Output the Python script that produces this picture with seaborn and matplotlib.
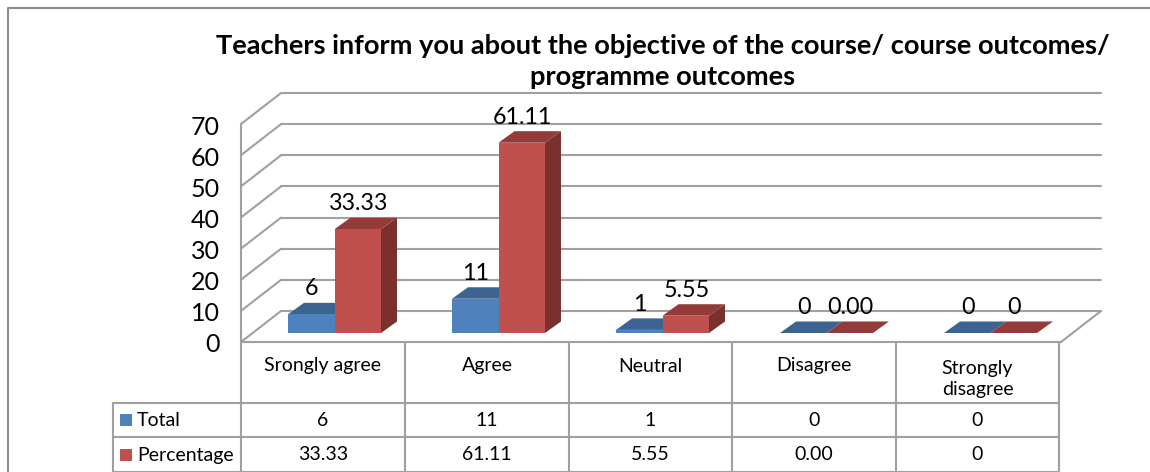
import matplotlib
matplotlib.use('Agg')
import matplotlib.pyplot as plt
from matplotlib.patches import Polygon
from matplotlib.transforms import ScaledTranslation
import pandas as pd
import seaborn as sns

categories = ["Srongly agree", "Agree", "Neutral", "Disagree", "Strongly\ndisagree"]
total = [6, 11, 1, 0, 0]
percentage = [33.33, 61.11, 5.55, 0.00, 0]
total_labels = ["6", "11", "1", "0", "0"]
pct_labels = ["33.33", "61.11", "5.55", "0.00", "0"]
y_ticks = [0, 10, 20, 30, 40, 50, 60, 70]
title = "Teachers inform you about the objective of the course/ course outcomes/\nprogramme outcomes"

sns.set_theme(style='white')
plt.rcParams['font.family'] = ['Lato', 'DejaVu Sans']

W, H = 1150, 472
GREY = '#a0a0a0'
colors = {'Total': '#4f81bd', 'Percentage': '#c0504d'}
tops = {'Total': '#3d6491', 'Percentage': '#933b39'}
sides = {'Total': '#2f4f73', 'Percentage': '#7c302e'}

df = pd.DataFrame({
    'cat': categories * 2,
    'series': ['Total'] * 5 + ['Percentage'] * 5,
    'value': total + percentage,
})

fig = plt.figure(figsize=(W / 100, H / 100), dpi=100)

# pixel overlay for frame and table
ov = fig.add_axes([0, 0, 1, 1], zorder=0)
ov.set_xlim(0, W)
ov.set_ylim(H, 0)
ov.axis('off')

# bar plane axes, y=0 sits at pixel row 333
px_per_unit = 3.114
left, right, base = 252.5, 1072.5, 333
height = 70 * px_per_unit
ax = fig.add_axes([left / W, (H - base) / H, (right - left) / W, height / H], zorder=1)
ax.patch.set_alpha(0)
sns.barplot(data=df, x='cat', y='value', hue='series', hue_order=['Total', 'Percentage'],
            order=categories, palette=colors, width=0.567, saturation=1, legend=False,
            linewidth=0, zorder=3, ax=ax)
ax.set_xlim(-0.5, 4.5)
ax.set_ylim(0, 70)
ax.set_xlabel('')
ax.set_ylabel('')
ax.set_xticks([])
sns.despine(ax=ax, left=True, bottom=True)


def shift(dx, dy):
    return ax.transData + ScaledTranslation(dx / 100, dy / 100, fig.dpi_scale_trans)


# walls: offsets from the bar plane in pixels
front = shift(-11.5, -9)
back = shift(28.5, 22)
for v in y_ticks:
    ax.plot([-0.5, 4.5], [v, v], color=GREY, lw=1.5, transform=back, clip_on=False, zorder=1)
    p0 = front.transform((-0.5, v))
    p1 = back.transform((-0.5, v))
    ax.plot([p0[0], p1[0]], [p0[1], p1[1]], color=GREY, lw=1.5, transform=None, clip_on=False, zorder=1)
ax.plot([-0.5, -0.5], [0, 70], color=GREY, lw=1.5, transform=front, clip_on=False, zorder=1)
ax.plot([-0.5, 4.5], [0, 0], color=GREY, lw=1.5, transform=front, clip_on=False, zorder=1)
p0 = front.transform((4.5, 0))
p1 = back.transform((4.5, 0))
ax.plot([p0[0], p1[0]], [p0[1], p1[1]], color=GREY, lw=1.5, transform=None, clip_on=False, zorder=1)

# y tick labels follow the front wall
ax.set_yticks(y_ticks)
ax.tick_params(axis='y', length=0, pad=0, labelsize=18, labelcolor='black')
for lab in ax.get_yticklabels():
    lab.set_transform(lab.get_transform() + ScaledTranslation(-33 / 100, -10 / 100, fig.dpi_scale_trans))

# depth faces of each bar, worked out from the patches seaborn drew
depth_x, depth_y = 16, 11.5
for name, cont, labels in zip(['Total', 'Percentage'], ax.containers, [total_labels, pct_labels]):
    for bar, lab in zip(cont, labels):
        x0, y0 = ax.transData.transform((bar.get_x(), 0))
        x1, y1 = ax.transData.transform((bar.get_x() + bar.get_width(), bar.get_height()))
        top = [(x0, y1), (x1, y1), (x1 + depth_x, y1 + depth_y), (x0 + depth_x, y1 + depth_y)]
        side = [(x1, y0), (x1, y1), (x1 + depth_x, y1 + depth_y), (x1 + depth_x, y0 + depth_y)]
        ax.add_patch(Polygon(side, closed=True, fc=sides[name], ec='none', transform=None, clip_on=False, zorder=2))
        ax.add_patch(Polygon(top, closed=True, fc=tops[name], ec='none', transform=None, clip_on=False, zorder=2))
        ax.annotate(lab, (bar.get_x() + bar.get_width() / 2, bar.get_height()), xytext=(0.5, 25.5 * 0.72),
                    textcoords='offset points', ha='center', va='center', fontsize=16.8, color='black',
                    annotation_clip=False, zorder=5)

# frame
ov.plot([8, 8, W], [H, 8, 8], color='#8c8c8c', lw=1.5)

# title
ov.text(663, 61.5, title, ha='center', va='center', fontsize=19.6, fontweight='bold',
        color='black', linespacing=1.37)

# table
col_x = [241, 405, 569, 732, 896, 1059]
row_y = [342, 403, 437, 472]
leg_x = 113
for x in col_x:
    ov.plot([x, x], [row_y[0], row_y[-1]], color=GREY, lw=1.5, zorder=1)
ov.plot([leg_x, leg_x], [row_y[1], row_y[-1]], color=GREY, lw=1.5, zorder=1)
for y in row_y[1:]:
    ov.plot([leg_x, col_x[-1]], [y, y], color=GREY, lw=1.5, zorder=1)

for i, c in enumerate(categories):
    cx = (col_x[i] + col_x[i + 1]) / 2
    ov.text(cx, 366 if '\n' not in c else 379, c, ha='center', va='center', fontsize=14, color='black', linespacing=1.35)
    ov.text(cx, 420, total_labels[i], ha='center', va='center', fontsize=14, color='black')
    ov.text(cx, 455, pct_labels[i], ha='center', va='center', fontsize=14, color='black')

for name, y in [('Total', 420), ('Percentage', 455)]:
    ov.add_patch(plt.Rectangle((120, y - 6), 12, 12, fc=colors[name], ec='none'))
    ov.text(137, y, name, ha='left', va='center', fontsize=14, color='black')

fig.savefig('out.png', dpi=100)
